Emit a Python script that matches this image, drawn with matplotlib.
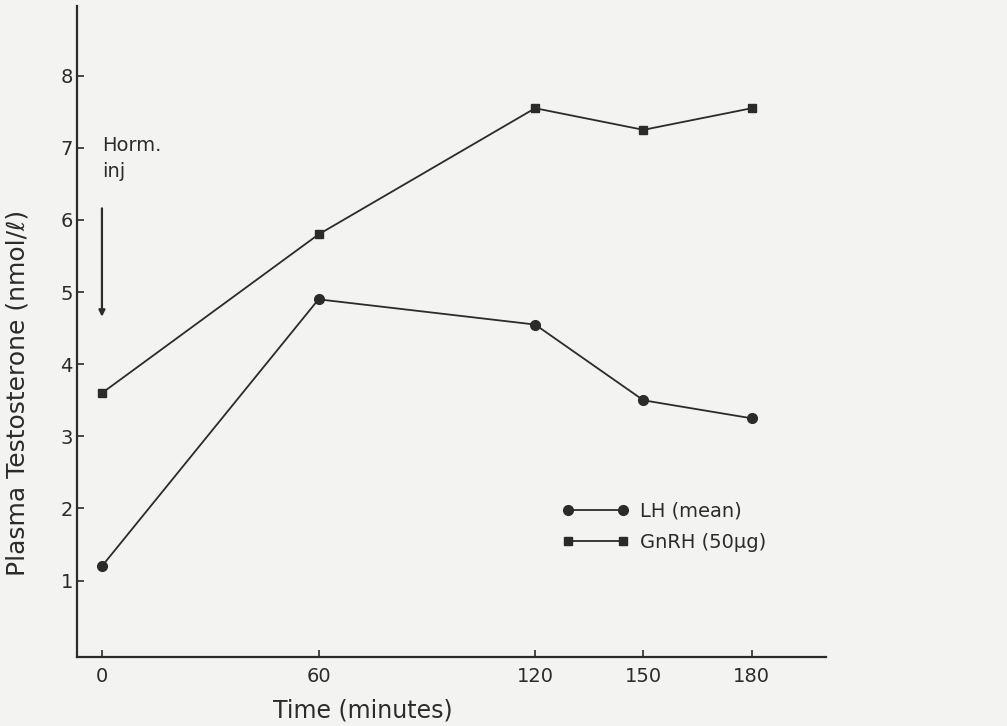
import matplotlib.pyplot as plt

# data
time_min = [0, 60, 120, 150, 180]
lh_mean = [1.2, 4.9, 4.55, 3.5, 3.25]
gnrh_50 = [3.6, 5.8, 7.55, 7.25, 7.55]
x_ticks = [0, 60, 120, 150, 180]
y_ticks = [1, 2, 3, 4, 5, 6, 7, 8]

bg = '#f3f3f1'
ink = '#2b2b2b'

plt.rcParams['font.family'] = ['DejaVu Sans']

fig = plt.figure(figsize=(10.07, 7.26), dpi=100, facecolor=bg)
ax = fig.add_axes([0.0765, 0.095, 0.7435, 0.897])
ax.set_facecolor(bg)

ax.plot(time_min, lh_mean, color=ink, lw=1.3, marker='o', ms=7,
        label='LH (mean)')
ax.plot(time_min, gnrh_50, color=ink, lw=1.3, marker='s', ms=6,
        label='GnRH (50\u03bcg)')

ax.set_xlim(-6.9, 200.5)
ax.set_ylim(-0.06, 8.97)
ax.set_xticks(x_ticks)
ax.set_yticks(y_ticks)
ax.tick_params(direction='in', length=5, width=1.2, color=ink,
               labelsize=14, labelcolor=ink)
ax.tick_params(axis='y', pad=3)
ax.tick_params(axis='x', pad=7)

for side in ['top', 'right']:
    ax.spines[side].set_visible(False)
for side in ['left', 'bottom']:
    ax.spines[side].set_color(ink)
    ax.spines[side].set_linewidth(1.6)

ax.set_xlabel('Time (minutes)', fontsize=17, color=ink)
ax.xaxis.set_label_coords(0.382, -0.064)
ax.set_ylabel('Plasma Testosterone (nmol/\u2113)', fontsize=18, color=ink)
ax.yaxis.set_label_coords(-0.064, 0.405)

# hormone injection note
ax.text(0, 6.85, 'Horm.\ninj', fontsize=14, color=ink, va='center',
        ha='left', linespacing=1.5)
ax.annotate('', xy=(0, 4.62), xytext=(0, 6.2),
            arrowprops=dict(arrowstyle='-|>', color=ink, lw=1.6,
                            mutation_scale=9))

ax.legend(loc='upper left', bbox_to_anchor=(0.625, 0.265), frameon=False,
          numpoints=2, handlelength=3.4, fontsize=14, labelspacing=0.6,
          handletextpad=0.6, labelcolor=ink)

plt.savefig('out.png', dpi=100, facecolor=bg)
